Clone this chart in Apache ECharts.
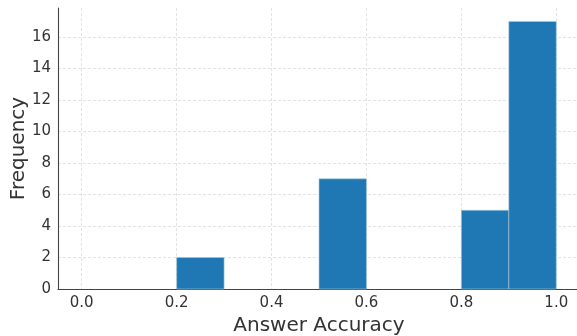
<!DOCTYPE html>
<html><head><meta charset="utf-8">
<script src="https://cdn.jsdelivr.net/npm/echarts@6/dist/echarts.min.js"></script>
<style>html,body{margin:0;padding:0;background:#fff}#c{width:577px;height:336px}</style>
</head><body><div id="c"></div>
<script>
const binStarts = [0.0, 0.1, 0.2, 0.3, 0.4, 0.5, 0.6, 0.7, 0.8, 0.9];
const binWidth = 0.1;
const counts = [0, 0, 2, 0, 0, 7, 0, 0, 5, 17];
const xTicks = [0.0, 0.2, 0.4, 0.6, 0.8, 1.0];
const yTicks = [0, 2, 4, 6, 8, 10, 12, 14, 16];

const data = binStarts.map((s, i) => [s, s + binWidth, counts[i]]).filter(d => d[2] > 0);
const chart = echarts.init(document.getElementById('c'), null, {renderer: 'canvas'});
const font = 'DejaVu Sans';
const gridLine = {show: true, lineStyle: {color: '#dcdcdc', type: [3, 2], width: 0.8}};
chart.setOption({
  animation: false,
  grid: {left: 58, right: -3, top: 8, bottom: 47, containLabel: false, outerBoundsMode: 'none'},
  xAxis: {
    type: 'value', min: -0.05, max: 1.05,
    axisLine: {show: true, onZero: false, lineStyle: {color: '#444', width: 1.1}},
    axisTick: {show: false, customValues: xTicks},
    axisLabel: {color: '#333', fontFamily: font, fontSize: 15, margin: 7,
      customValues: xTicks, formatter: v => v.toFixed(1)},
    splitLine: gridLine,
    name: 'Answer Accuracy', nameLocation: 'middle', nameGap: 27, nameMoveOverlap: false,
    nameTextStyle: {color: '#333', fontFamily: font, fontSize: 20}
  },
  yAxis: {
    type: 'value', min: 0, max: 17.85,
    axisLine: {show: true, onZero: false, lineStyle: {color: '#444', width: 1.1}},
    axisTick: {show: false, customValues: yTicks},
    axisLabel: {color: '#333', fontFamily: font, fontSize: 15, margin: 7,
      customValues: yTicks},
    splitLine: gridLine,
    name: 'Frequency', nameLocation: 'middle', nameGap: 29, nameMoveOverlap: false,
    nameTextStyle: {color: '#333', fontFamily: font, fontSize: 20}
  },
  series: [{
    type: 'custom',
    data: data,
    renderItem: function (params, api) {
      const p0 = api.coord([api.value(0), api.value(2)]);
      const p1 = api.coord([api.value(1), 0]);
      return {
        type: 'rect',
        shape: {x: p0[0], y: p0[1], width: p1[0] - p0[0], height: p1[1] - p0[1]},
        style: {fill: '#1f77b4', stroke: '#a9c9e0', lineWidth: 0.6}
      };
    },
    encode: {x: [0, 1], y: 2}
  }]
});
</script></body></html>
